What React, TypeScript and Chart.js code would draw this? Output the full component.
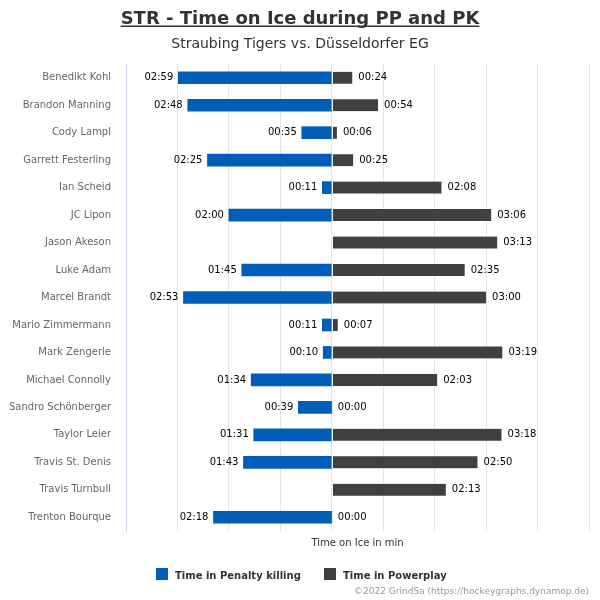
import React, { useEffect, useRef } from 'react';
import { Chart, registerables } from 'chart.js';

Chart.register(...registerables);

const titleText = 'STR - Time on Ice during PP and PK';
const subtitleText = 'Straubing Tigers vs. Düsseldorfer EG';
const axisTitle = 'Time on Ice in min';
const creditsText = '©2022 GrindSa (https://hockeygraphs.dynamop.de)';

const players = [
  'Benedikt Kohl',
  'Brandon Manning',
  'Cody Lampl',
  'Garrett Festerling',
  'Ian Scheid',
  'JC Lipon',
  'Jason Akeson',
  'Luke Adam',
  'Marcel Brandt',
  'Mario Zimmermann',
  'Mark Zengerle',
  'Michael Connolly',
  'Sandro Schönberger',
  'Taylor Leier',
  'Travis St. Denis',
  'Travis Turnbull',
  'Trenton Bourque',
];

// seconds on ice while penalty killing (shown to the left of zero)
const pkSeconds: (number | null)[] = [179, 168, 35, 145, 11, 120, null, 105, 173, 11, 10, 94, 39, 91, 103, null, 138];
// seconds on ice during powerplay
const ppSeconds: (number | null)[] = [24, 54, 6, 25, 128, 186, 193, 155, 180, 7, 199, 123, 0, 198, 170, 133, 0];

const seriesNames = ['Time in Penalty killing', 'Time in Powerplay'];
const seriesColors = ['#005eb8', '#404040'];

const xMin = -240;
const xMax = 300;
const xStep = 60;

const FONT = '"DejaVu Sans", sans-serif';

const fmt = (s: number) => {
  const m = Math.floor(s / 60);
  const sec = Math.round(s % 60);
  return `${String(m).padStart(2, '0')}:${String(sec).padStart(2, '0')}`;
};

const labelsPlugin = {
  id: 'barLabels',
  afterDatasetsDraw(chart: any) {
    const ctx = chart.ctx;
    const xs = chart.scales.x;
    ctx.save();
    ctx.font = `10px ${FONT}`;
    ctx.fillStyle = '#000000';
    ctx.textBaseline = 'middle';
    chart.data.datasets.forEach((ds: any, di: number) => {
      const meta = chart.getDatasetMeta(di);
      meta.data.forEach((bar: any, i: number) => {
        const v = ds.data[i];
        if (v === null || v === undefined) return;
        const txt = fmt(Math.abs(v));
        const px = xs.getPixelForValue(v);
        if (di === 0) {
          ctx.textAlign = 'right';
          ctx.fillText(txt, px - 5, bar.y);
        } else {
          ctx.textAlign = 'left';
          ctx.fillText(txt, px + 6, bar.y);
        }
      });
    });
    ctx.restore();
  },
};

const decorPlugin = {
  id: 'decor',
  afterDraw(chart: any) {
    const ctx = chart.ctx;
    const ca = chart.chartArea;
    ctx.save();
    // title
    ctx.font = `bold 18px ${FONT}`;
    ctx.fillStyle = '#333333';
    ctx.textAlign = 'center';
    ctx.textBaseline = 'alphabetic';
    ctx.fillText(titleText, 300, 24);
    const tw = ctx.measureText(titleText).width;
    ctx.fillRect(300 - tw / 2, 25.5, tw, 1.5);
    // subtitle
    ctx.font = `14px ${FONT}`;
    ctx.fillStyle = '#333333';
    ctx.fillText(subtitleText, 300, 48);
    // axis title
    ctx.font = `10px ${FONT}`;
    ctx.fillStyle = '#333333';
    ctx.fillText(axisTitle, (ca.left + ca.right) / 2, 546);
    // legend
    ctx.font = `bold 10px ${FONT}`;
    const box = 12;
    const gap = 7;
    const spacing = 23;
    const w0 = ctx.measureText(seriesNames[0]).width;
    const w1 = ctx.measureText(seriesNames[1]).width;
    const total = box + gap + w0 + spacing + box + gap + w1;
    let x = Math.round(301 - total / 2);
    ctx.textAlign = 'left';
    [w0, w1].forEach((w, i) => {
      ctx.fillStyle = seriesColors[i];
      ctx.fillRect(x, 568, box, box);
      ctx.fillStyle = '#333333';
      ctx.fillText(seriesNames[i], x + box + gap, 579);
      x = Math.round(x + box + gap + w + spacing);
    });
    // credits
    ctx.font = `9px ${FONT}`;
    ctx.fillStyle = '#999999';
    ctx.textAlign = 'right';
    ctx.fillText(creditsText, 589, 594);
    ctx.restore();
  },
};

export default function App() {
  const canvasRef = useRef<HTMLCanvasElement | null>(null);

  useEffect(() => {
    document.body.style.margin = '0';
    const canvas = canvasRef.current;
    if (!canvas) return;
    const chart = new Chart(canvas, {
      type: 'bar',
      data: {
        labels: players,
        datasets: [
          {
            label: seriesNames[0],
            data: pkSeconds.map((v) => (v === null ? null : -v)),
            backgroundColor: seriesColors[0],
            borderWidth: 0,
            barThickness: 12,
            grouped: false,
          },
          {
            label: seriesNames[1],
            data: ppSeconds,
            backgroundColor: seriesColors[1],
            borderColor: '#ffffff',
            borderWidth: { left: 1, right: 0, top: 0, bottom: 0 },
            borderSkipped: false,
            barThickness: 12,
            grouped: false,
          },
        ],
      },
      options: {
        indexAxis: 'y',
        animation: false,
        responsive: false,
        maintainAspectRatio: false,
        layout: { padding: { top: 64, right: 11, bottom: 0, left: 0 } },
        plugins: {
          legend: { display: false },
          title: { display: false },
          tooltip: { enabled: false },
        },
        scales: {
          x: {
            min: xMin,
            max: xMax,
            ticks: { display: false, stepSize: xStep },
            grid: { color: '#e6e6e6', drawTicks: false },
            border: { display: false },
            afterFit: (scale: any) => {
              scale.height = 69;
            },
          },
          y: {
            ticks: {
              color: '#666666',
              font: { family: FONT, size: 10 },
              padding: 15,
            },
            grid: { display: false, drawTicks: false },
            border: { display: true, color: '#ccd6eb', width: 1 },
            afterFit: (scale: any) => {
              scale.width = 126;
            },
          },
        },
      },
      plugins: [labelsPlugin, decorPlugin],
    } as any);
    return () => chart.destroy();
  }, []);

  return (
    <div style={{ width: 600, height: 600, background: '#ffffff' }}>
      <canvas ref={canvasRef} width={600} height={600} style={{ display: 'block' }} />
    </div>
  );
}
